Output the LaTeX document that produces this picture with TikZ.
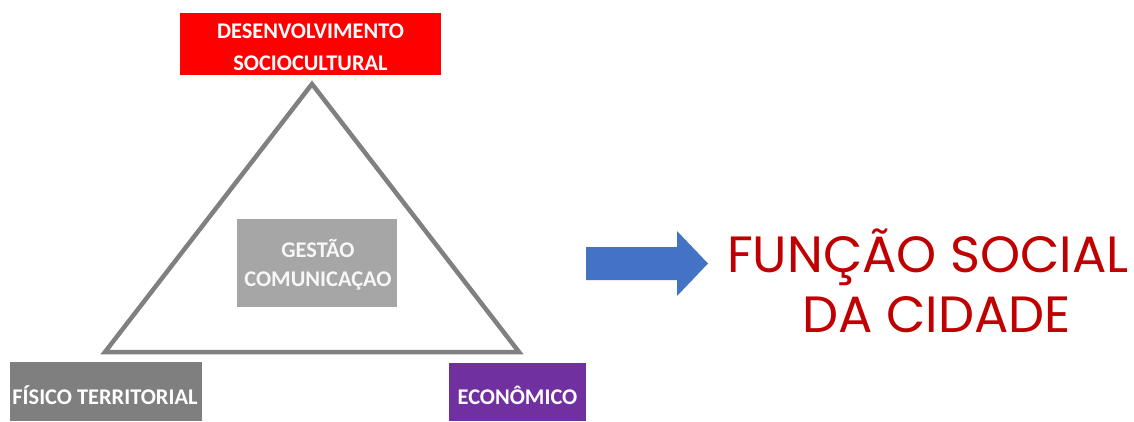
\documentclass[tikz,border=0pt]{standalone}
\usepackage{fontspec}
\setmainfont{Carlito}
\newfontfamily\gothic{Poppins}
\definecolor{boxred}{HTML}{FF0000}
\definecolor{boxgray}{HTML}{7F7F7F}
\definecolor{boxpurple}{HTML}{7030A0}
\definecolor{boxlight}{HTML}{A6A6A6}
\definecolor{tri}{HTML}{808080}
\definecolor{arrowblue}{HTML}{4472C4}
\definecolor{darkred}{HTML}{C00000}
\begin{document}
\begin{tikzpicture}[x=1pt,y=-1pt,
  lbl/.style={inner sep=0pt, font=\bfseries\fontsize{22.4}{32}\selectfont, text=white, align=center},
  big/.style={inner sep=0pt, anchor=base, text=darkred, font=\gothic\fontsize{51}{61}\selectfont}]
\useasboundingbox (0,0) rectangle (1134,421);
% boxes
\fill[boxred] (180,13) rectangle (441,75);
\node[lbl] (top) at (310.5,47) {DESENVOLVIMENTO\\SOCIOCULTURAL};
\fill[boxgray] (10,362) rectangle (202,421);
\node[lbl] (fis) at (105,395.5) {FÍSICO TERRITORIAL};
\fill[boxpurple] (449,363) rectangle (586,421);
\node[lbl] (eco) at (517.5,395.5) {ECONÔMICO};
\fill[boxlight] (237,219) rectangle (397,307);
\node[lbl, text=white!94!gray, font=\bfseries\fontsize{22.4}{29}\selectfont] (ges) at (318,265) {GESTÃO\\COMUNICAÇAO};
% triangle
\coordinate (A) at (312,84);
\coordinate (B) at (105,352);
\coordinate (C) at (519,352);
\draw[tri, line width=4.5pt, line join=miter] (A) -- (B) -- (C) -- cycle;
% arrow
\fill[arrowblue] (586,247) -- (677,247) -- (677,231) -- (708,263.5) -- (677,296) -- (677,280) -- (586,280) -- cycle;
% text
\node[big] (fun1) at (928,272) {FUNÇÃO SOCIAL};
\node[big] (fun2) at (936.5,332) {DA CIDADE};
\end{tikzpicture}
\end{document}
